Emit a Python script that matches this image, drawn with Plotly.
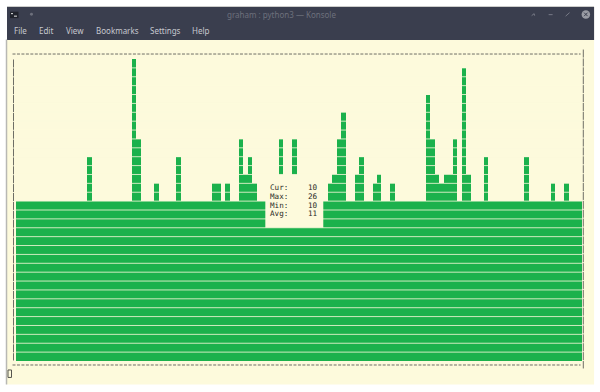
import plotly.graph_objects as go

W, H = 600, 392
# plot area in page pixels
L, R, T, B = 16.0, 582.4, 58.5, 361.5

CREAM = "#fdfadc"
GREEN = "#1bb14c"
DARK = "#3a3e4e"
DASH = "#6e6e66"

# bar height in terminal rows for each of the 127 columns
heights = [
    18, 18, 18, 18, 18, 18, 18, 18, 18, 18,
    18, 18, 18, 18, 18, 18, 23, 18, 18, 18,
    18, 18, 18, 18, 18, 18, 34, 25, 18, 18,
    18, 20, 18, 18, 18, 18, 23, 18, 18, 18,
    18, 18, 18, 18, 20, 20, 18, 20, 18, 18,
    25, 21, 23, 20, 18, 18, 18, 18, 18, 25,
    18, 18, 25, 18, 18, 18, 18, 18, 18, 18,
    20, 21, 25, 28, 18, 18, 21, 23, 18, 18,
    20, 21, 18, 18, 20, 18, 18, 18, 18, 18,
    18, 18, 30, 25, 21, 20, 21, 21, 25, 18,
    33, 21, 18, 18, 18, 23, 18, 18, 18, 18,
    18, 18, 18, 18, 23, 18, 18, 18, 18, 18,
    20, 18, 18, 20, 18, 18, 18,
]
columns = list(range(len(heights)))
total_rows = 34

menu_labels = ["File", "Edit", "View", "Bookmarks", "Settings", "Help"]
menu_x = [13, 39, 66, 96, 150, 192]
stat_labels = ["Cur:", "Max:", "Min:", "Avg:"]
stat_values = ["10", "26", "10", "11"]
window_title = "graham : python3 \u2014 Konsole"


def px(x):
    return (x - L) / (R - L)


def py(y):
    return (B - y) / (B - T)


def rect(x0, y0, x1, y1, fill, layer="above", line=None, width=0):
    return dict(type="rect", xref="paper", yref="paper", x0=px(x0), x1=px(x1),
                y0=py(y0), y1=py(y1), fillcolor=fill, layer=layer,
                line=dict(color=line or fill, width=width))


def seg(x0, y0, x1, y1, color=DASH, width=1, dash="solid"):
    return dict(type="line", xref="paper", yref="paper", x0=px(x0), x1=px(x1),
                y0=py(y0), y1=py(y1), layer="above",
                line=dict(color=color, width=width, dash=dash))


def label(x, y, text, color, size, family, anchor="left"):
    return dict(xref="paper", yref="paper", x=px(x), y=py(y), text=text, showarrow=False,
                xanchor=anchor, yanchor="middle", borderpad=0,
                font=dict(color=color, size=size, family=family))


shapes = [
    rect(7, 6, 594.5, 385, CREAM, "below"),
    seg(6.5, 39, 6.5, 385, "#b8b8b4", 1.5),
    rect(7, 6, 594.5, 39.5, DARK, "below"),
]

# pale gaps between terminal rows
for k in range(1, total_rows):
    shapes.append(dict(type="line", xref="paper", yref="y", x0=0, x1=1, y0=k, y1=k,
                       layer="above", line=dict(color=CREAM, width=0.8)))

# statistics box that hides the bars behind it
shapes.append(rect(265.5, B - 21 * (B - T) / total_rows, 323.5, B - 15 * (B - T) / total_rows, CREAM))

# dashed terminal frame
shapes += [
    seg(12.5, 53.5, 581, 53.5, DASH, 1, "3px,1.46px"),
    seg(12.5, 365.5, 581, 365.5, DASH, 1, "3px,1.46px"),
    seg(13.5, 59, 13.5, 361, DASH, 1, "8px,0.9px"),
    seg(583.7, 49, 583.7, 369, DASH, 1, "8px,0.9px"),
]

# window chrome details
shapes += [
    rect(10, 11, 18.5, 17.5, "#20232c", "above"),
    seg(11, 13, 13, 13, "#e8e8e8", 1),
    seg(14, 15.5, 17, 15.5, "#e8e8e8", 1),
    dict(type="circle", xref="paper", yref="paper", x0=px(30), x1=px(33), y0=py(12), y1=py(15),
         fillcolor="#6d707c", line=dict(width=0)),
    seg(532, 15, 534.5, 13, "#777a86", 1),
    seg(534.5, 13, 535, 15, "#777a86", 1),
    seg(549, 14, 553, 14, "#777a86", 1),
    seg(566, 15.5, 570, 12, "#777a86", 1),
    dict(type="circle", xref="paper", yref="paper", x0=px(582), x1=px(590.5), y0=py(9.5), y1=py(18),
         fillcolor="#9a9ca4", line=dict(width=0)),
    seg(584.5, 12, 588, 15.5, "#3a3e4e", 1),
    seg(588, 12, 584.5, 15.5, "#3a3e4e", 1),
    # terminal cursor
    rect(8, 370.5, 11.5, 378, "rgba(0,0,0,0)", "above", "#55554f", 1),
]

annotations = [label(282, 13.5, window_title, "#6d707c", 8, "Noto Sans", "center")]
for text, x in zip(menu_labels, menu_x):
    annotations.append(label(x - 0.5, 30, text, "#c6c8ce", 8, "Noto Sans"))
for i, (name, value) in enumerate(zip(stat_labels, stat_values)):
    y = 187.2 + i * (B - T) / total_rows
    annotations.append(label(269.5, y, name, "#2a2a26", 7.6, "DejaVu Sans Mono"))
    annotations.append(label(319.2, y, value, "#2a2a26", 7.6, "DejaVu Sans Mono", "right"))

fig = go.Figure(go.Bar(x=columns, y=heights, width=1,
                       marker=dict(color=GREEN, line=dict(width=0)), hoverinfo="skip"))
fig.update_layout(
    width=W, height=H, autosize=False, showlegend=False,
    margin=dict(l=L, r=W - R, t=T, b=H - B, pad=0),
    paper_bgcolor="white", plot_bgcolor="rgba(0,0,0,0)", bargap=0,
    shapes=shapes, annotations=annotations,
    xaxis=dict(range=[-0.5, len(heights) - 0.5], visible=False, fixedrange=True),
    yaxis=dict(range=[0, total_rows], visible=False, fixedrange=True),
)
fig.write_html("out.html", config=dict(displayModeBar=False),
               post_script="document.body.style.margin='0';document.body.style.overflow='hidden';")
